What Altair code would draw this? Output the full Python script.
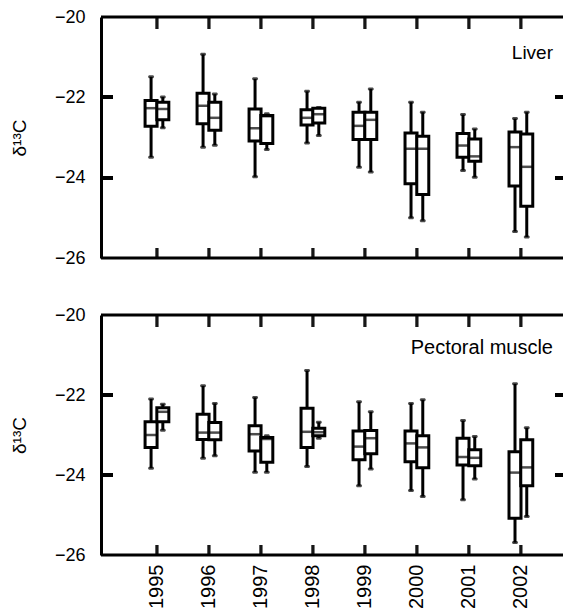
import altair as alt
import pandas as pd

years = [1995, 1996, 1997, 1998, 1999, 2000, 2001, 2002]
y_ticks = [-20, -22, -24, -26]
inner_y_ticks = [-22, -24]
frame_y = [-20, -26]

# Liver, left box (A)
liver_a_lo = [-23.49, -23.24, -23.98, -23.14, -23.74, -25.00, -23.82, -25.34]
liver_a_q1 = [-22.72, -22.66, -23.09, -22.69, -23.05, -24.15, -23.49, -24.21]
liver_a_med = [-22.27, -22.21, -22.77, -22.51, -22.71, -23.28, -23.20, -23.24]
liver_a_q3 = [-22.08, -21.90, -22.29, -22.31, -22.37, -22.89, -22.90, -22.86]
liver_a_hi = [-21.49, -20.93, -21.54, -21.85, -22.12, -22.12, -22.43, -22.53]
# Liver, right box (B)
liver_b_lo = [-22.76, -23.19, -23.30, -22.95, -23.86, -25.07, -23.99, -25.48]
liver_b_q1 = [-22.56, -22.82, -23.15, -22.64, -23.05, -24.42, -23.59, -24.71]
liver_b_med = [-22.29, -22.51, -22.47, -22.42, -22.56, -23.28, -23.47, -23.73]
liver_b_q3 = [-22.12, -22.12, -22.45, -22.27, -22.37, -22.97, -23.04, -22.91]
liver_b_hi = [-21.99, -21.92, -22.41, -22.25, -21.79, -22.37, -22.79, -22.37]
# Pectoral muscle, left box (A)
muscle_a_lo = [-23.83, -23.58, -23.93, -23.79, -24.27, -24.39, -24.62, -25.69]
muscle_a_q1 = [-23.31, -23.11, -23.40, -23.31, -23.62, -23.67, -23.75, -25.08]
muscle_a_med = [-23.00, -22.94, -22.98, -22.92, -23.29, -23.21, -23.55, -23.94]
muscle_a_q3 = [-22.67, -22.48, -22.77, -22.33, -22.90, -22.90, -23.08, -23.42]
muscle_a_hi = [-22.10, -21.77, -22.06, -21.39, -22.17, -22.21, -22.64, -21.72]
# Pectoral muscle, right box (B)
muscle_b_lo = [-22.88, -23.52, -23.93, -23.08, -23.85, -24.54, -24.10, -25.04]
muscle_b_q1 = [-22.67, -23.12, -23.68, -23.02, -23.47, -23.82, -23.77, -24.27]
muscle_b_med = [-22.42, -22.94, -23.10, -22.93, -23.08, -23.31, -23.57, -23.81]
muscle_b_q3 = [-22.32, -22.69, -23.06, -22.83, -22.89, -23.02, -23.37, -23.12]
muscle_b_hi = [-22.23, -22.21, -23.02, -22.68, -22.42, -22.12, -23.04, -22.82]


def frame(lo, q1, med, q3, hi, grp):
    return pd.DataFrame({"year": years, "grp": grp, "lo": lo, "q1": q1,
                         "med": med, "q3": q3, "hi": hi})


liver_df = pd.concat([
    frame(liver_a_lo, liver_a_q1, liver_a_med, liver_a_q3, liver_a_hi, "A"),
    frame(liver_b_lo, liver_b_q1, liver_b_med, liver_b_q3, liver_b_hi, "B"),
], ignore_index=True)
muscle_df = pd.concat([
    frame(muscle_a_lo, muscle_a_q1, muscle_a_med, muscle_a_q3, muscle_a_hi, "A"),
    frame(muscle_b_lo, muscle_b_q1, muscle_b_med, muscle_b_q3, muscle_b_hi, "B"),
], ignore_index=True)

fr_df = pd.DataFrame({"v": frame_y})

W = 462
H_TOP = 241          # top panel pixel height
GAP = 57             # gap between panels
H_BOT = 240          # bottom panel pixel height
H_ALL = H_TOP + GAP + H_BOT
FONT = "Liberation Sans"
XDOM = [1994.02, 2002.714]
YDOM = [-26, -20]

xs = alt.Scale(domain=XDOM, nice=False, zero=False)
xn = alt.X("xpos:Q", scale=xs)

x_axis = alt.Axis(
    orient="bottom", values=years, format="d", labels=True,
    labelAngle=-90, labelFontSize=20, labelPadding=9, labelColor="black",
    ticks=False, tickSize=0, domain=False, grid=False, title=None)

y_axis = alt.Axis(
    orient="left", values=y_ticks, format="d", labelFontSize=18,
    labelPadding=16, labelColor="black", ticks=False, tickSize=0,
    domain=True, domainWidth=3, domainColor="black", grid=False,
    title="δ¹³C", titleFontSize=19, titleFontWeight="normal",
    titleColor="black", titlePadding=25)


def panel(df, label, y0, h, show_x, ty, tsize):
    ys = alt.Scale(domain=YDOM, nice=False, zero=False, range=[y0 + h, y0])
    # one shared transform chain for every layer drawn from this panel's data
    base = alt.Chart(df).transform_calculate(
        xpos="datum.year + (datum.grp == 'A' ? -0.113 : 0.113)",
        ytop=str(frame_y[0]),
        ybot=str(frame_y[1]),
        t1=str(inner_y_ticks[0]),
        t2=str(inner_y_ticks[1]),
    )
    xw = alt.X("xpos:Q", scale=xs, axis=x_axis) if show_x else xn
    whisk = base.mark_rule(color="black", strokeWidth=3).encode(
        x=xw, y=alt.Y("lo:Q", scale=ys, axis=y_axis), y2="hi:Q")
    box = base.mark_bar(size=12, fill="white", stroke="black", strokeWidth=3).encode(
        x=xn, y=alt.Y("q1:Q", scale=ys), y2="q3:Q")
    med = base.mark_tick(orient="horizontal", size=12, thickness=2.5, color="black").encode(
        x=xn, y=alt.Y("med:Q", scale=ys))
    cap_lo = base.mark_tick(orient="horizontal", size=6, thickness=3, color="black",
                            cornerRadius=1.5).encode(
        x=xn, y=alt.Y("lo:Q", scale=ys))
    cap_hi = base.mark_tick(orient="horizontal", size=6, thickness=3, color="black",
                            cornerRadius=1.5).encode(
        x=xn, y=alt.Y("hi:Q", scale=ys))

    # top and bottom frame lines of the panel
    frame_lines = alt.Chart(fr_df).mark_rule(color="black", strokeWidth=3).encode(
        y=alt.Y("v:Q", scale=ys), x=alt.value(0), x2=alt.value(W))

    # inward year ticks on the top and bottom edges
    top_ticks = base.mark_tick(orient="vertical", size=12, thickness=3,
                               color="black", yOffset=6).encode(
        x=alt.X("year:Q", scale=xs, axis=x_axis),
        y=alt.Y("ytop:Q", scale=ys, axis=y_axis))
    bot_ticks = base.mark_tick(orient="vertical", size=10, thickness=3,
                               color="black", yOffset=-5).encode(
        x=alt.X("year:Q", scale=xs, axis=x_axis),
        y=alt.Y("ybot:Q", scale=ys, axis=y_axis))
    # inward value ticks on the left and right edges (dashed full-width rule)
    side1 = base.mark_rule(color="black", strokeWidth=3,
                           strokeDash=[12, W - 20, 8]).encode(
        y=alt.Y("t1:Q", scale=ys, axis=y_axis), x=alt.value(0), x2=alt.value(W))
    side2 = base.mark_rule(color="black", strokeWidth=3,
                           strokeDash=[12, W - 20, 8]).encode(
        y=alt.Y("t2:Q", scale=ys, axis=y_axis), x=alt.value(0), x2=alt.value(W))

    txt = alt.Chart(pd.DataFrame({"label": [label]})).mark_text(
        align="right", baseline="middle", fontSize=tsize, font=FONT, color="black"
    ).encode(text="label:N", x=alt.value(W - 10), y=alt.value(y0 + ty))

    return alt.layer(whisk, box, med, cap_lo, cap_hi, frame_lines, top_ticks,
                     bot_ticks, side1, side2, txt)


bottom = panel(muscle_df, "Pectoral muscle", H_TOP + GAP, H_BOT, True, 33, 20)
top = panel(liver_df, "Liver", 0, H_TOP, False, 36, 19)

chart = alt.layer(bottom, top).resolve_scale(y="independent").properties(
    width=W, height=H_ALL,
    padding={"left": 2, "top": 0, "right": 0, "bottom": 0}
).configure(font=FONT).configure_view(stroke=None).configure_axis(
    grid=False, domain=False, labelColor="black",
    titleColor="black", domainColor="black")

chart.save("out.html", embed_options={"renderer": "svg", "actions": False})
